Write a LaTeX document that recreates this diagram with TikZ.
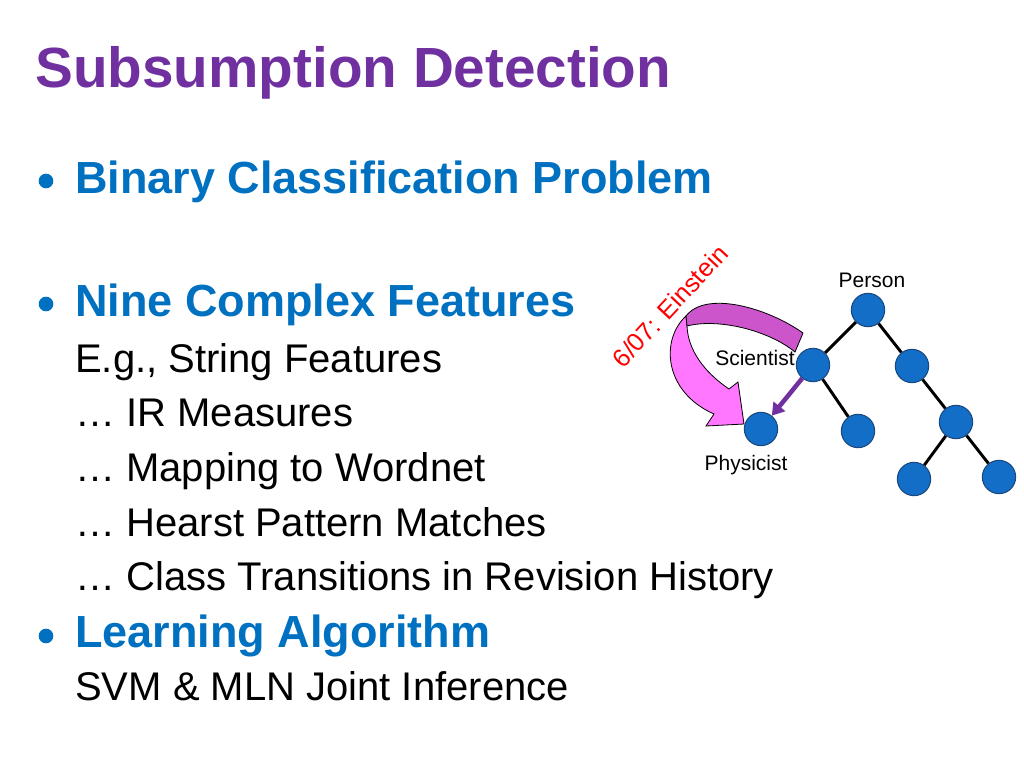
\documentclass[tikz,border=0pt]{standalone}
\usepackage{fontspec}
\setmainfont{Liberation Sans}
\usetikzlibrary{arrows.meta}
\definecolor{titlepurple}{RGB}{112,48,160}
\definecolor{headblue}{RGB}{0,112,192}
\definecolor{nodeblue}{RGB}{18,110,198}
\definecolor{nodeedge}{RGB}{28,72,128}
\definecolor{pinklight}{RGB}{255,119,255}
\definecolor{pinkdark}{RGB}{204,85,204}
\tikzset{
  vertex/.style={circle,fill=nodeblue,draw=nodeedge,line width=0.8pt,minimum size=25pt,inner sep=0pt},
  edge/.style={line width=2.2pt},
  body/.style={anchor=base west,inner sep=0pt,font=\fontsize{30}{36}\selectfont},
  head/.style={anchor=base west,inner sep=0pt,text=headblue,font=\fontsize{33.75}{40}\selectfont\bfseries},
  bullet/.style={circle,fill=headblue,minimum size=11pt,inner sep=0pt},
  tag/.style={inner sep=0pt,font=\fontsize{15.75}{18}\selectfont}
}
\begin{document}
\begin{tikzpicture}[x=0.75pt,y=-0.75pt]
  \useasboundingbox (0,0) rectangle (1024,768);
  % Title and the bullet list on the left
  \node[anchor=base west,inner sep=0pt,text=titlepurple,font=\fontsize{42.5}{50}\selectfont\bfseries] (title) at (35,87) {Subsumption Detection};
  \node[bullet] (b1) at (46,181) {};
  \node[head]   (binary)   at (75,193) {Binary Classification Problem};
  \node[bullet] (b2) at (46,304) {};
  \node[head]   (nine)     at (75,316) {Nine Complex Features};
  \node[body]   (string)   at (75,372) {E.g., String Features};
  \node[body]   (ir)       at (75,426) {… IR Measures};
  \node[body]   (wordnet)  at (75,481) {… Mapping to Wordnet};
  \node[body]   (hearst)   at (75,536) {… Hearst Pattern Matches};
  \node[body]   (history)  at (75,590) {… Class Transitions in Revision History};
  \node[bullet] (b3) at (46,636) {};
  \node[head]   (learning) at (75,647) {Learning Algorithm};
  \node[body]   (svm)      at (75,700) {SVM \& MLN Joint Inference};
  % Curved pink arrow (front face, then the twisted top band)
  \draw[fill=pinklight,line width=0.6pt] (686,316) .. controls (660,340) and (664,392) .. (714,414)
        -- (706,426) -- (744,424) -- (738,382) -- (729,389)
        .. controls (704,372) and (688,350) .. (687,326) -- cycle;
  \draw[fill=pinkdark,line width=0.6pt] (803,333) .. controls (768,308) and (706,290) .. (686,316)
        -- (687,326) .. controls (718,318) and (768,330) .. (795,352) -- cycle;
  \node[text=red,rotate=47,inner sep=0pt,font=\fontsize{19}{22}\selectfont] (einstein) at (670,306) {6/07: Einstein};
  % Tree on the right
  \node[vertex] (person) at (868,310) {};
  \node[vertex] (sci)    at (813,365) {};
  \node[vertex] (pr)     at (912,366) {};
  \node[vertex] (phy)    at (761,429) {};
  \node[vertex] (scir)   at (858,431) {};
  \node[vertex] (prr)    at (956,422) {};
  \node[vertex] (prrl)   at (914,479) {};
  \node[vertex] (prrr)   at (999,477) {};
  \draw[edge] (person) -- (sci);  \draw[edge] (person) -- (pr);
  \draw[edge] (sci) -- (scir);    \draw[edge] (pr) -- (prr);
  \draw[edge] (prr) -- (prrl);    \draw[edge] (prr) -- (prrr);
  \draw[titlepurple,line width=3.4pt,-{Triangle[length=9pt,width=11pt]}] (sci) -- (phy);
  \node[tag] (lperson) at (872,280) {Person};
  \node[tag] (lsci)    at (755,358) {Scientist};
  \node[tag] (lphy)    at (746,465) {Physicist};
\end{tikzpicture}
\end{document}
